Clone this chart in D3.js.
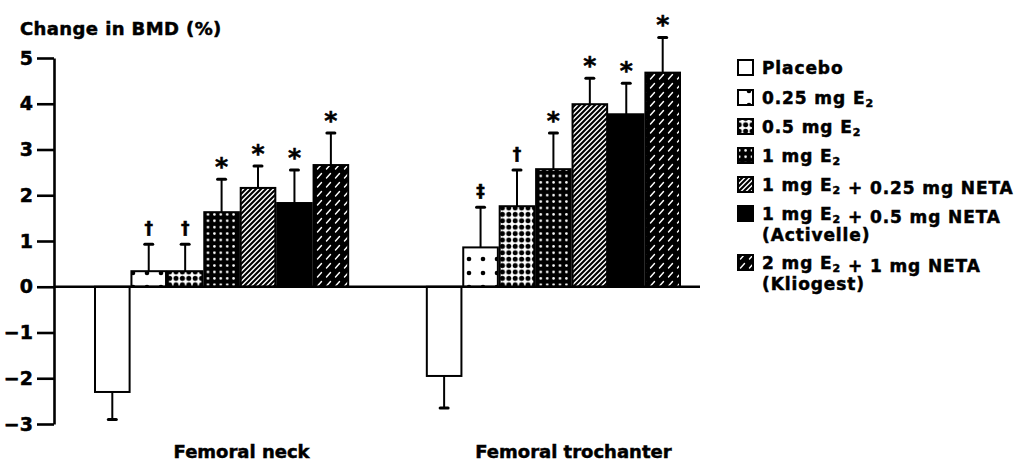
<!DOCTYPE html>
<html>
<head>
<meta charset="utf-8">
<script src="https://cdn.jsdelivr.net/npm/d3@7"></script>
<style>
  html, body { margin: 0; padding: 0; background: #fff; }
  svg { display: block; }
  text { font-family: "DejaVu Sans", sans-serif; font-weight: bold; fill: #000; stroke: #000; stroke-width: 0.5; }
</style>
</head>
<body>
<svg id="chart" width="1035" height="463"></svg>
<script>
// Sites measured
const groups = ["Femoral neck", "Femoral trochanter"];

// Treatment arms (E2 is written with a subscript 2)
const series = [
  "Placebo",
  "0.25 mg E2",
  "0.5 mg E2",
  "1 mg E2",
  "1 mg E2 + 0.25 mg NETA",
  "1 mg E2 + 0.5 mg NETA",
  "2 mg E2 + 1 mg NETA"
];
const seriesSecondLine = ["", "", "", "", "", "(Activelle)", "(Kliogest)"];

// Mean change in BMD (%) and standard error, per site
const neckMeans  = [-2.3, 0.34, 0.34, 1.63, 2.16, 1.83, 2.66];
const neckErrors = [0.6, 0.59, 0.59, 0.72, 0.48, 0.72, 0.70];
const trochMeans  = [-1.95, 0.86, 1.76, 2.57, 3.99, 3.77, 4.68];
const trochErrors = [0.70, 0.88, 0.79, 0.79, 0.57, 0.68, 0.77];

// Significance marks above each bar
const neckMarks  = ["", "\u2020", "\u2020", "*", "*", "*", "*"];
const trochMarks = ["", "\u2021", "\u2020", "*", "*", "*", "*"];

// Axis
const yTicks = [-3, -2, -1, 0, 1, 2, 3, 4, 5];
const yTitle = "Change in BMD (%)";

const means  = [neckMeans, trochMeans];
const errors = [neckErrors, trochErrors];
const marks  = [neckMarks, trochMarks];

const rows = [];
groups.forEach((g, gi) => {
  series.forEach((s, si) => {
    rows.push({ group: g, series: s, si, value: means[gi][si], err: errors[gi][si], mark: marks[gi][si] });
  });
});

const svg = d3.select("#chart");

// ---- fill patterns for the treatment arms ----
const defs = svg.append("defs");

function pattern(id, size, bg) {
  const p = defs.append("pattern").attr("id", id)
    .attr("patternUnits", "userSpaceOnUse")
    .attr("width", size).attr("height", size);
  p.append("rect").attr("width", size).attr("height", size).attr("fill", bg);
  return p;
}
// sparse black dots
pattern("p025", 14, "#fff").append("circle").attr("cx", 7).attr("cy", 7).attr("r", 2.3).attr("fill", "#000");
// dense black dots
pattern("p05", 6.4, "#fff").append("circle").attr("cx", 3.2).attr("cy", 3.2).attr("r", 2.5).attr("fill", "#000");
// white dots on black
pattern("p1", 6.4, "#000").append("circle").attr("cx", 3.2).attr("cy", 3.2).attr("r", 1.3).attr("fill", "#fff");
// fine diagonal hatching
{
  const p = pattern("pHatch", 5, "#fff");
  p.append("path").attr("d", "M-1,6 L6,-1 M-1,1 L1,-1 M4,6 L6,4")
    .attr("stroke", "#000").attr("stroke-width", 2.1);
}
// white dashes on black
{
  const p = pattern("pKlio", 9, "#000");
  p.append("path").attr("d", "M2.5,7 L6.5,2.5")
    .attr("stroke", "#fff").attr("stroke-width", 1.4).attr("stroke-linecap", "round");
}
const fills = ["#fff", "url(#p025)", "url(#p05)", "url(#p1)", "url(#pHatch)", "#000", "url(#pKlio)"];
const fillOf = d3.scaleOrdinal().domain(series).range(fills);

// ---- scales ----
const y = d3.scaleLinear().domain([-3, 5]).range([424, 58]);
const x0 = d3.scaleBand().domain(groups).range([95, 680]).paddingInner(0.237).paddingOuter(0);
const x1 = d3.scaleBand().domain(series).range([0, x0.bandwidth()]).paddingInner(0.05);
const axisX = 54;

// ---- y axis ----
const yAxis = svg.append("g")
  .attr("transform", `translate(${axisX},0)`)
  .call(d3.axisLeft(y).tickValues(yTicks).tickSize(17).tickSizeOuter(0).tickPadding(4));
yAxis.select(".domain").attr("stroke", "#000").attr("stroke-width", 2.6);
yAxis.selectAll(".tick line").attr("stroke", "#000").attr("stroke-width", 2.6);
yAxis.selectAll(".tick text")
  .attr("font-family", "DejaVu Sans, sans-serif").attr("font-weight", "bold")
  .attr("font-size", 19).attr("fill", "#000");

svg.append("text")
  .attr("x", 20).attr("y", 35)
  .attr("font-size", 18)
  .attr("letter-spacing", 0.4)
  .text(yTitle);

// ---- bars ----
const barG = svg.append("g");
const bx = d => x0(d.group) + x1(d.series);

barG.selectAll("rect.bar").data(rows).join("rect")
  .attr("class", "bar")
  .attr("x", d => bx(d))
  .attr("width", x1.bandwidth())
  .attr("y", d => y(Math.max(0, d.value)))
  .attr("height", d => Math.abs(y(d.value) - y(0)))
  .attr("fill", d => fillOf(d.series))
  .attr("stroke", "#000").attr("stroke-width", 2);

// error bars, drawn away from zero
const errEnd = d => d.value >= 0 ? d.value + d.err : d.value - d.err;
barG.selectAll("line.err").data(rows).join("line")
  .attr("class", "err")
  .attr("x1", d => bx(d) + x1.bandwidth() / 2)
  .attr("x2", d => bx(d) + x1.bandwidth() / 2)
  .attr("y1", d => y(d.value))
  .attr("y2", d => y(errEnd(d)))
  .attr("stroke", "#000").attr("stroke-width", 2);
barG.selectAll("line.cap").data(rows).join("line")
  .attr("class", "cap")
  .attr("x1", d => bx(d) + x1.bandwidth() / 2 - 4)
  .attr("x2", d => bx(d) + x1.bandwidth() / 2 + 4)
  .attr("y1", d => y(errEnd(d)))
  .attr("y2", d => y(errEnd(d)))
  .attr("stroke", "#000").attr("stroke-width", 3).attr("stroke-linecap", "round");

// significance marks
barG.selectAll("text.mark").data(rows.filter(d => d.mark)).join("text")
  .attr("class", "mark")
  .attr("x", d => bx(d) + x1.bandwidth() / 2)
  .attr("y", d => y(errEnd(d)) - (d.mark === "*" ? 4 : 10))
  .attr("text-anchor", "middle")
  .attr("font-size", d => d.mark === "*" ? 25 : 17)
  .attr("stroke-width", d => d.mark === "*" ? 1.6 : 0.8)
  .text(d => d.mark);

// zero line
svg.append("line")
  .attr("x1", axisX).attr("x2", 700)
  .attr("y1", y(0)).attr("y2", y(0))
  .attr("stroke", "#000").attr("stroke-width", 2.6);

// site labels
svg.selectAll("text.site").data(groups).join("text")
  .attr("class", "site")
  .attr("x", g => x0(g) + x0.bandwidth() / 2 + 20)
  .attr("y", 458)
  .attr("text-anchor", "middle")
  .attr("font-size", 18)
  .text(g => g);

// ---- legend ----
function writeLabel(sel, label) {
  // split on "E2" so the 2 can be set as a subscript
  const parts = label.split("E2");
  parts.forEach((p, i) => {
    if (p) sel.append("tspan").text(p);
    if (i < parts.length - 1) {
      sel.append("tspan").text("E");
      sel.append("tspan").attr("font-size", 11).attr("dy", 3).text("2");
      sel.append("tspan").attr("dy", -3).text("");
    }
  });
}
const legendRowY = [68, 98, 127, 156, 185, 214, 263];
const legend = svg.append("g");
series.forEach((s, i) => {
  const gy = legendRowY[i];
  legend.append("rect")
    .attr("x", 738).attr("y", gy - 8).attr("width", 15).attr("height", 15)
    .attr("fill", fillOf(s)).attr("stroke", "#000").attr("stroke-width", 2);
  const t = legend.append("text").attr("x", 762).attr("y", gy + 6)
    .attr("font-size", 17).attr("letter-spacing", 0.9);
  writeLabel(t, s);
  if (seriesSecondLine[i]) {
    legend.append("text").attr("x", 762).attr("y", gy + 27)
      .attr("font-size", 17).attr("letter-spacing", 0.9).text(seriesSecondLine[i]);
  }
});
</script>
</body>
</html>
